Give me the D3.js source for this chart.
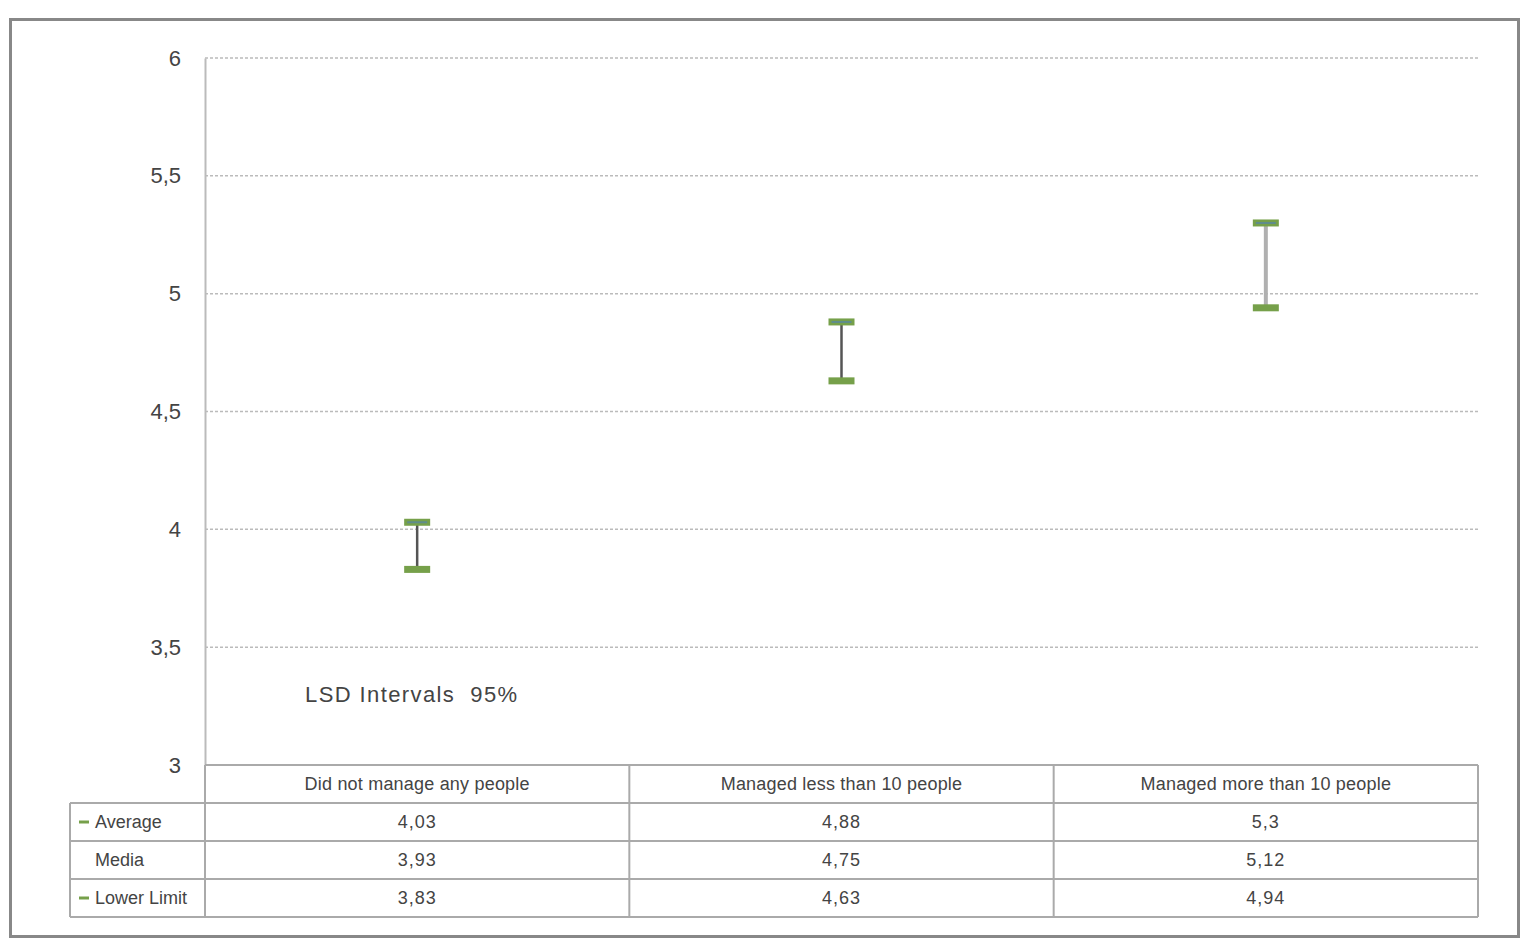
<!DOCTYPE html>
<html>
<head>
<meta charset="utf-8">
<script src="https://cdn.jsdelivr.net/npm/d3@7"></script>
<style>
  body { margin: 0; background: #fff; }
  svg text { font-family: "Liberation Sans", "DejaVu Sans", sans-serif; fill: #444; }
</style>
</head>
<body>
<svg id="chart" width="1533" height="952"></svg>
<script>
// data
var categories = ['Did not manage any people', 'Managed less than 10 people', 'Managed more than 10 people']
var average = [4.03, 4.88, 5.3]
var media = [3.93, 4.75, 5.12]
var lowerLimit = [3.83, 4.63, 4.94]
var yTicks = [3, 3.5, 4, 4.5, 5, 5.5, 6]
var rowNames = ['Average', 'Media', 'Lower Limit']
var rowHasKey = [true, false, true]

var svg = d3.select('#chart')
var fmt = function (v) { return String(v).replace('.', ',') }

// outer frame
svg.append('rect').attr('x', 10.5).attr('y', 19.5).attr('width', 1508).attr('height', 917)
  .attr('fill', '#fff').attr('stroke', '#888').attr('stroke-width', 3)

var plotLeft = 205, plotRight = 1478, plotTop = 58, plotBottom = 765
var x = d3.scaleBand().domain(categories).range([plotLeft, plotRight])
var y = d3.scaleLinear().domain([3, 6]).range([plotBottom, plotTop])

/** gridlines */
svg.append('g').selectAll('line').data(yTicks.slice(1)).join('line')
  .attr('x1', plotLeft).attr('x2', plotRight)
  .attr('y1', function (d) { return y(d) }).attr('y2', function (d) { return y(d) })
  .style('stroke', '#bbb').style('stroke-width', 1.5).style('stroke-dasharray', '3,2')

/** y axis */
var yAxis = svg.append('g').attr('transform', 'translate(' + plotLeft + ',0)')
  .call(d3.axisLeft(y).tickValues(yTicks).tickFormat(fmt).tickSize(0).tickPadding(24))
yAxis.select('.domain').attr('stroke', '#bbb').attr('stroke-width', 2)
yAxis.selectAll('text').style('font-size', '22px').style('fill', '#444')

/** error bars */
var bars = svg.append('g').selectAll('g').data(categories).join('g')
var cx = function (d) { return x(d) + x.bandwidth() / 2 }
bars.append('line')
  .attr('x1', cx).attr('x2', cx)
  .attr('y1', function (d, i) { return y(average[i]) })
  .attr('y2', function (d, i) { return y(lowerLimit[i]) })
  .style('stroke', function (d, i) { return i == 2 ? '#b0b0b0' : '#555' })
  .style('stroke-width', function (d, i) { return i == 2 ? 4 : 2.5 })
bars.append('rect')
  .attr('x', function (d) { return cx(d) - 13 })
  .attr('y', function (d, i) { return y(average[i]) - 3.5 })
  .attr('width', 26).attr('height', 7).attr('fill', '#76a04a')
bars.append('line')
  .attr('x1', function (d) { return cx(d) - 10 })
  .attr('x2', function (d) { return cx(d) + 10 })
  .attr('y1', function (d, i) { return y(average[i]) })
  .attr('y2', function (d, i) { return y(average[i]) })
  .style('stroke', '#5f8c8c').style('stroke-width', 2)
bars.append('rect')
  .attr('x', function (d) { return cx(d) - 13 })
  .attr('y', function (d, i) { return y(lowerLimit[i]) - 3.5 })
  .attr('width', 26).attr('height', 7).attr('fill', '#76a04a')

/** label */
svg.append('text').attr('x', 305).attr('y', 702).text('LSD Intervals  95%')
  .style('font-size', '22px').style('fill', '#444').style('white-space', 'pre').style('letter-spacing', '1.4px')

/** data table */
var rowH = 38, tableLeft = 70
var tb = svg.append('g')
// horizontal lines
tb.selectAll('line.h').data(d3.range(5)).join('line').attr('class', 'h')
  .attr('x1', function (d) { return d == 0 ? plotLeft : tableLeft }).attr('x2', plotRight)
  .attr('y1', function (d) { return plotBottom + d * rowH }).attr('y2', function (d) { return plotBottom + d * rowH })
  .style('stroke', '#aaa').style('stroke-width', 2)
// vertical lines
var vx = [plotLeft].concat(categories.map(function (c) { return x(c) + x.bandwidth() }))
tb.selectAll('line.v').data(vx).join('line').attr('class', 'v')
  .attr('x1', function (d) { return d }).attr('x2', function (d) { return d })
  .attr('y1', plotBottom).attr('y2', plotBottom + 4 * rowH)
  .style('stroke', '#aaa').style('stroke-width', 2)
tb.append('line').attr('x1', tableLeft).attr('x2', tableLeft)
  .attr('y1', plotBottom + rowH).attr('y2', plotBottom + 4 * rowH)
  .style('stroke', '#aaa').style('stroke-width', 2)

// header
tb.selectAll('text.head').data(categories).join('text').attr('class', 'head')
  .attr('x', cx).attr('y', plotBottom + 25)
  .attr('text-anchor', 'middle').style('font-size', '18px').style('letter-spacing', '0.2px')
  .text(function (d) { return d })

// rows
var rows = [average, media, lowerLimit]
rows.forEach(function (vals, r) {
  var cy = plotBottom + (r + 1) * rowH + 25
  if (rowHasKey[r]) {
    tb.append('line').attr('x1', 79).attr('x2', 89).attr('y1', cy - 6).attr('y2', cy - 6)
      .style('stroke', '#76a04a').style('stroke-width', 3)
  }
  tb.append('text').attr('x', 95).attr('y', cy).text(rowNames[r])
    .style('font-size', '18px')
  tb.selectAll('text.v' + r).data(vals).join('text').attr('class', 'v' + r)
    .attr('x', function (d, i) { return cx(categories[i]) }).attr('y', cy)
    .attr('text-anchor', 'middle').style('font-size', '18px').style('letter-spacing', '1px')
    .text(fmt)
})
</script>
</body>
</html>
